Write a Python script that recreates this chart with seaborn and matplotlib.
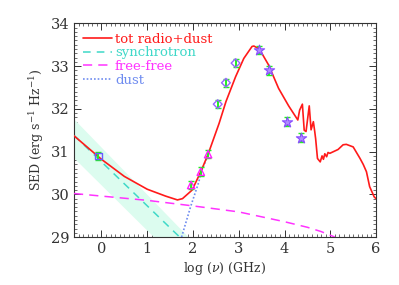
import numpy as np
import pandas as pd
import matplotlib
matplotlib.use("Agg")
import matplotlib.pyplot as plt
import seaborn as sns
from matplotlib.ticker import MultipleLocator

# total model
tot_x = [-0.6, 0.0, 0.5, 1.0, 1.4, 1.66, 1.77, 1.98, 2.17, 2.33, 2.57, 2.72, 2.93, 3.11, 3.29,
         3.33, 3.45, 3.65, 3.87, 4.09, 4.29, 4.33, 4.39, 4.43, 4.47, 4.54, 4.58, 4.63, 4.66,
         4.68, 4.72, 4.78, 4.82, 4.85, 4.88, 4.92, 4.95, 4.99, 5.17, 5.28, 5.35, 5.5, 5.65,
         5.72, 5.79, 5.86, 5.96, 6.0]
tot_y = [31.37, 30.82, 30.42, 30.12, 29.96, 29.87, 29.9, 30.1, 30.53, 30.94, 31.66, 32.17, 32.75,
         33.18, 33.46, 33.47, 33.40, 33.03, 32.48, 32.07, 31.74, 31.97, 32.11, 31.5, 31.47, 32.07,
         31.51, 31.70, 31.47, 31.3, 30.84, 30.76, 30.9, 30.82, 30.95, 30.88, 30.98, 30.96, 31.05,
         31.16, 31.17, 31.11, 30.84, 30.7, 30.53, 30.18, 29.94, 29.9]

# synchrotron + uncertainty band
syn_x = [-0.6, 1.71]
syn_y = [31.38, 29.0]
band_x = [-0.6, 1.9]
band_hi = [31.76, 29.0]
band_lo = [30.85, 28.2]

# free-free
ff_x = [-0.6, 0.0, 1.0, 2.0, 3.0, 4.0, 4.5, 4.8, 5.1]
ff_y = [30.02, 29.96, 29.86, 29.73, 29.59, 29.36, 29.23, 29.13, 29.0]

# dust
dust_x = [1.75, 1.95, 2.13, 2.17, 2.33]
dust_y = [29.0, 29.72, 30.3, 30.5, 30.92]

# observed points
sq_x, sq_y = [-0.07], [30.9]
tri_x = [1.96, 2.17, 2.33]
tri_y = [30.22, 30.53, 30.94]
dia_x = [2.54, 2.72, 2.93]
dia_y = [32.11, 32.61, 33.07]
star_x = [3.45, 3.67, 4.05, 4.36]
star_y = [33.38, 32.9, 31.7, 31.33]
err = 0.1

sns.set_style("ticks")
plt.rcParams["font.family"] = ["DejaVu Serif"]
plt.rcParams["mathtext.fontset"] = "dejavuserif"

fig = plt.figure(figsize=(3.99, 2.85), dpi=100)
ax = fig.add_axes([0.1855, 0.168, 0.757, 0.75])

ax.fill_between(band_x, band_lo, band_hi, color="#dcfcef", lw=0, zorder=1)

sns.lineplot(x=tot_x, y=tot_y, ax=ax, color="#ff1a1a", lw=1.2, label="tot radio+dust", zorder=4)
sns.lineplot(x=syn_x, y=syn_y, ax=ax, color="#3fd8c8", lw=1.1, label="synchrotron", zorder=3)
ax.lines[-1].set_linestyle((0, (5, 4)))
sns.lineplot(x=ff_x, y=ff_y, ax=ax, color="#ff33ff", lw=1.1, label="free-free", zorder=3)
ax.lines[-1].set_linestyle((0, (6, 4)))
sns.lineplot(x=dust_x, y=dust_y, ax=ax, color="#6f8cf0", lw=1.2, label="dust", zorder=3)
ax.lines[-1].set_linestyle((0, (1, 1.2)))

# points with error bars
for xs, ys in [(sq_x, sq_y), (tri_x, tri_y), (dia_x, dia_y), (star_x, star_y)]:
    ax.errorbar(xs, ys, yerr=err, fmt="none", ecolor="#22ee22", elinewidth=1.4, capsize=2, zorder=5)

sns.scatterplot(x=sq_x, y=sq_y, ax=ax, marker="s", s=22, facecolor="none", edgecolor="#6a5cff", linewidth=1.0, zorder=6)
sns.scatterplot(x=tri_x, y=tri_y, ax=ax, marker="^", s=28, facecolor="none", edgecolor="#ff22ff", linewidth=1.0, zorder=6)
sns.scatterplot(x=dia_x, y=dia_y, ax=ax, marker="D", s=20, facecolor="none", edgecolor="#9966ff", linewidth=1.0, zorder=6)
sns.scatterplot(x=star_x, y=star_y, ax=ax, marker="*", s=60, facecolor="#b08cff", edgecolor="#8a4dff", linewidth=0.8, zorder=6)

ax.set_xlim(-0.6, 6)
ax.set_ylim(29, 34)
ax.xaxis.set_major_locator(MultipleLocator(1))
ax.xaxis.set_minor_locator(MultipleLocator(0.1))
ax.yaxis.set_major_locator(MultipleLocator(1))
ax.yaxis.set_minor_locator(MultipleLocator(0.1))
ax.tick_params(which="both", direction="in", top=True, right=True, labelsize=10.5, colors="#333333")
ax.tick_params(which="major", length=5, width=0.7)
ax.tick_params(which="minor", length=2.5, width=0.5)
for s in ax.spines.values():
    s.set_linewidth(0.8)
    s.set_color("#333333")

ax.set_xlabel(r"log ($\nu$) (GHz)", fontsize=9, color="#333333", labelpad=3)
ax.set_ylabel(r"SED (erg s$^{-1}$ Hz$^{-1}$)", fontsize=9, color="#333333", labelpad=3)

leg = ax.legend(loc="upper left", frameon=False, fontsize=9.5, handlelength=2.2,
                handletextpad=0.2, labelspacing=0.05, borderaxespad=0.3)
for t, c in zip(leg.get_texts(), ["#ff1a1a", "#3fd8c8", "#ff33ff", "#6f8cf0"]):
    t.set_color(c)

fig.savefig("out.png", dpi=100)
